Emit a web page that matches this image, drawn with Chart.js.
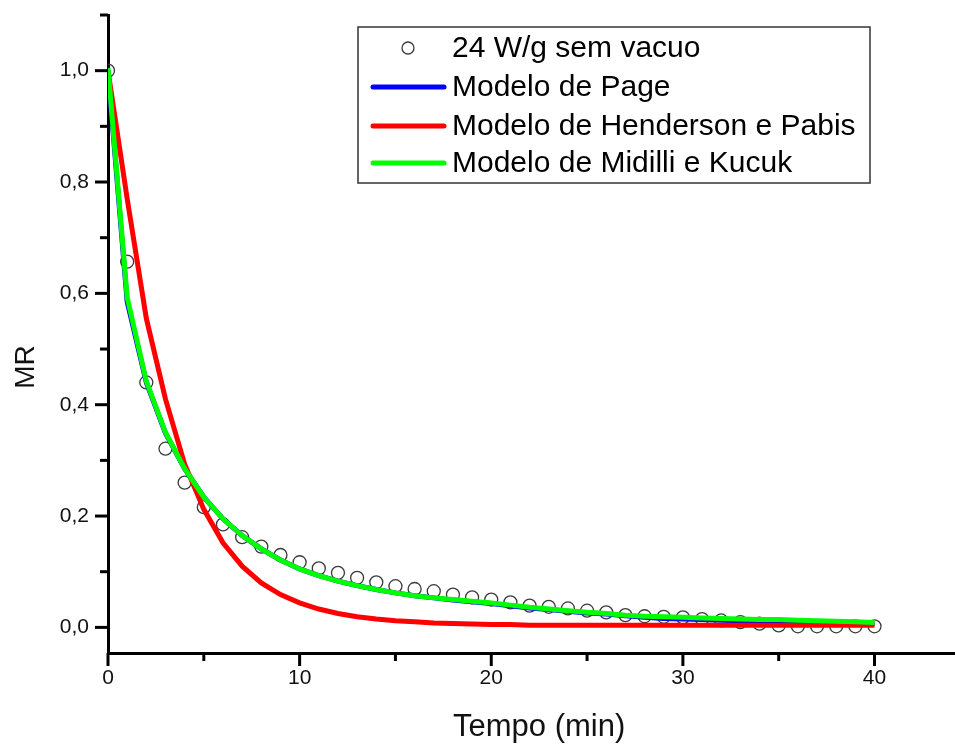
<!DOCTYPE html>
<html>
<head>
<meta charset="utf-8">
<script src="https://cdn.jsdelivr.net/npm/chart.js@4.4.0/dist/chart.umd.min.js"></script>
<style>
html,body{margin:0;padding:0;background:#ffffff;}
#wrap{width:955px;height:747px;position:relative;}
</style>
</head>
<body>
<div id="wrap"><canvas id="c" width="955" height="747"></canvas></div>
<script>
// ---- data ----
const timeMin = [0,1,2,3,4,5,6,7,8,9,10,11,12,13,14,15,16,17,18,19,20,21,22,23,24,25,26,27,28,29,30,31,32,33,34,35,36,37,38,39,40];
const mrObserved = [1.000,0.657,0.440,0.321,0.260,0.216,0.185,0.162,0.145,0.130,0.117,0.106,0.098,0.089,0.081,0.074,0.069,0.065,0.059,0.054,0.050,0.045,0.039,0.037,0.034,0.030,0.027,0.022,0.020,0.019,0.018,0.015,0.0125,0.0095,0.0066,0.0036,0.002,0.002,0.002,0.002,0.002];
const mrPage = [1.000,0.585,0.440,0.349,0.285,0.234,0.195,0.165,0.141,0.121,0.105,0.093,0.083,0.075,0.068,0.062,0.057,0.053,0.049,0.046,0.043,0.039,0.035,0.032,0.029,0.026,0.024,0.021,0.018,0.016,0.015,0.014,0.013,0.012,0.011,0.010,0.009,0.008,0.008,0.007,0.007];
const mrHenderson = [1.000,0.770,0.555,0.410,0.293,0.212,0.152,0.110,0.080,0.059,0.044,0.033,0.025,0.019,0.015,0.012,0.010,0.008,0.007,0.006,0.005,0.005,0.004,0.004,0.004,0.004,0.004,0.004,0.004,0.004,0.004,0.004,0.004,0.004,0.004,0.004,0.004,0.004,0.004,0.004,0.004];
const mrMidilli = [1.005,0.593,0.442,0.350,0.285,0.234,0.195,0.165,0.141,0.121,0.105,0.093,0.083,0.075,0.068,0.062,0.057,0.053,0.050,0.047,0.044,0.040,0.036,0.033,0.030,0.027,0.025,0.022,0.020,0.019,0.018,0.017,0.016,0.015,0.014,0.014,0.013,0.012,0.011,0.010,0.009];
const xTicks = [0,10,20,30,40];
const xMinorTicks = [5,15,25,35];
const yTicks = [0,0.2,0.4,0.6,0.8,1.0];
const yMinorTicks = [0.1,0.3,0.5,0.7,0.9,1.1];
const seriesLabels = ['24 W/g sem vacuo','Modelo de Page','Modelo de Henderson e Pabis','Modelo de Midilli e Kucuk'];
const xTitle = 'Tempo (min)';
const yTitle = 'MR';

const FONT = '"Liberation Sans", Arial, sans-serif';
const pts = arr => timeMin.map((t,i)=>({x:t, y:arr[i]}));

const axisDecor = {
  id:'axisDecor',
  afterDraw(chart){
    const {ctx, chartArea:a, scales:{x,y}} = chart;
    ctx.save();
    ctx.strokeStyle = '#000';
    ctx.lineWidth = 3;
    ctx.lineCap = 'butt';
    const seg=(x1,y1,x2,y2)=>{ctx.beginPath();ctx.moveTo(x1,y1);ctx.lineTo(x2,y2);ctx.stroke();};
    xTicks.forEach(v=>{const p=x.getPixelForValue(v); seg(p,a.bottom,p,a.bottom+13);});
    xMinorTicks.forEach(v=>{const p=x.getPixelForValue(v); seg(p,a.bottom,p,a.bottom+8);});
    yTicks.forEach(v=>{const p=y.getPixelForValue(v); seg(a.left-13,p,a.left,p);});
    yMinorTicks.forEach(v=>{const p=y.getPixelForValue(v); seg(a.left-8,p,a.left,p);});

    // axis titles
    ctx.fillStyle = '#111';
    ctx.font = '31px ' + FONT;
    ctx.textAlign = 'center';
    ctx.textBaseline = 'middle';
    ctx.fillText(xTitle, x.getPixelForValue(22.5), 727);
    ctx.save();
    ctx.font = '28px ' + FONT;
    ctx.translate(26, 367);
    ctx.rotate(-Math.PI/2);
    ctx.fillText(yTitle, 0, 0);
    ctx.restore();

    // legend
    const lx = 358, ly = 27, lw = 512, lh = 156;
    ctx.lineWidth = 1.5;
    ctx.strokeStyle = '#333';
    ctx.strokeRect(lx, ly, lw, lh);
    const rows = [48, 87, 126, 163];
    const ds = chart.data.datasets;
    ctx.font = '30px ' + FONT;
    ctx.textAlign = 'left';
    ctx.textBaseline = 'middle';
    seriesLabels.forEach((lab,i)=>{
      const yy = rows[i];
      if (i===0){
        ctx.beginPath();
        ctx.lineWidth = 1.3;
        ctx.strokeStyle = ds[0].borderColor;
        ctx.arc(408, yy, 6, 0, Math.PI*2);
        ctx.stroke();
      } else {
        ctx.beginPath();
        ctx.lineWidth = 5;
        ctx.lineCap = 'round';
        ctx.strokeStyle = ds[i].borderColor;
        ctx.moveTo(373, yy); ctx.lineTo(444, yy);
        ctx.stroke();
      }
      ctx.fillStyle = '#000';
      ctx.fillText(lab, 452, yy+1);
    });
    ctx.restore();
  }
};

new Chart(document.getElementById('c'), {
  type:'line',
  data:{
    datasets:[
      {label:seriesLabels[0], data:pts(mrObserved), showLine:false, pointRadius:6.5, pointBorderWidth:1.3,
       borderColor:'#3a3a3a', pointBorderColor:'#3a3a3a', backgroundColor:'rgba(0,0,0,0)', pointBackgroundColor:'rgba(0,0,0,0)', order:4},
      {label:seriesLabels[1], data:pts(mrPage), borderColor:'#0000ff', borderWidth:5, pointRadius:0, tension:0, order:3},
      {label:seriesLabels[2], data:pts(mrHenderson), borderColor:'#ff0000', borderWidth:5, pointRadius:0, tension:0, order:2},
      {label:seriesLabels[3], data:pts(mrMidilli), borderColor:'#00ff00', borderWidth:5, pointRadius:0, tension:0, order:1}
    ]
  },
  options:{
    responsive:false,
    animation:false,
    devicePixelRatio:1,
    layout:{autoPadding:false, padding:{top:15,right:0,left:0,bottom:0}},
    plugins:{legend:{display:false}, tooltip:{enabled:false}},
    scales:{
      x:{type:'linear', min:0, max:44.2,
         afterBuildTicks:s=>{s.ticks = xTicks.map(v=>({value:v}));},
         afterFit:s=>{s.height = 94; s.paddingLeft = 0; s.paddingRight = 0;},
         grid:{display:false, drawTicks:false, tickLength:0},
         border:{display:true, color:'#000', width:3},
         ticks:{padding:13, color:'#111', font:{family:FONT, size:21}, maxRotation:0, autoSkip:false, callback:v=>String(v)}},
      y:{type:'linear', min:-0.046, max:1.1,
         afterBuildTicks:s=>{s.ticks = yTicks.map(v=>({value:v}));},
         afterFit:s=>{s.width = 108; s.paddingTop = 0; s.paddingBottom = 0;},
         grid:{display:false, drawTicks:false, tickLength:0},
         border:{display:true, color:'#000', width:3},
         ticks:{padding:19, color:'#111', font:{family:FONT, size:21}, autoSkip:false, callback:v=>v.toFixed(1).replace('.',',')}}
    }
  },
  plugins:[axisDecor]
});
</script>
</body>
</html>
